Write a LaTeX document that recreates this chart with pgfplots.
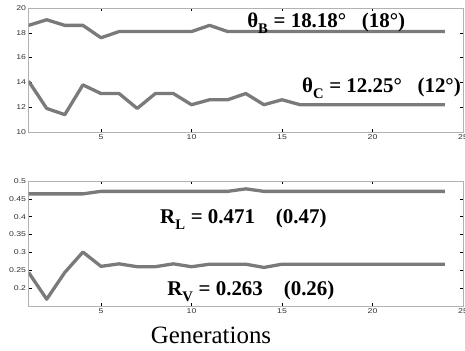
\documentclass[border=0pt]{standalone}
\usepackage{pgfplots}
\pgfplotsset{compat=1.18}
\usepackage{fontspec}
\setmainfont{Liberation Serif}
\newfontfamily\tickfont[FakeStretch=1.25]{Liberation Sans}
\definecolor{linegray}{RGB}{122,122,122}
\tikzset{annot/.style={anchor=base west, inner sep=0pt, font=\fontsize{21}{22}\selectfont\bfseries}}
\begin{document}
\begin{tikzpicture}
\useasboundingbox (0bp,0bp) rectangle (465bp,351bp);
\pgfplotsset{
  every axis/.append style={
    scale only axis,
    width=434.4bp,
    height=124bp,
    xmin=1, xmax=25,
    xtick={5,10,15,20,25},
    tick align=inside,
    major tick length=3bp,
    axis line style={gray!60, line width=0.8pt},
    tick style={black, line width=0.5pt},
    ticklabel style={font=\tickfont\fontsize{7}{8}\selectfont, text=black!80},
    /pgf/number format/assume math mode=true,
    xticklabel style={yshift=1bp},
    yticklabel style={xshift=1bp},
  },
  myline/.style={linegray, line width=3.3bp, line join=round, mark=none},
}
% top axis
\begin{axis}[
  anchor=south west, at={(28.6bp,219bp)},
  ymin=10, ymax=20, ytick={10,12,14,16,18,20},
]
\addplot[myline] coordinates {
 (1,18.6) (2,19.05) (3,18.6) (4,18.6) (5,17.6) (6,18.1) (7,18.1) (8,18.1)
 (9,18.1) (10,18.1) (11,18.6) (12,18.1) (13,18.1) (14,18.1) (15,18.1)
 (16,18.1) (17,18.1) (18,18.1) (19,18.1) (20,18.1) (21,18.1) (22,18.1)
 (23,18.1) (24,18.1)
};
\addplot[myline] coordinates {
 (1,14.1) (2,11.9) (3,11.4) (4,13.8) (5,13.1) (6,13.1) (7,11.9) (8,13.1)
 (9,13.1) (10,12.2) (11,12.6) (12,12.6) (13,13.1) (14,12.2) (15,12.6)
 (16,12.2) (17,12.2) (18,12.2) (19,12.2) (20,12.2) (21,12.2) (22,12.2)
 (23,12.2) (24,12.2)
};
\node[annot] at (axis cs:13.07,18.39)
  {θ\raisebox{-0.3ex}{\textsubscript{B}} = 18.18°\ \ \ (18°)};
\node[annot] at (axis cs:16.1,13.15)
  {θ\raisebox{-0.3ex}{\textsubscript{C}} = 12.25°\ \ \ (12°)};
\end{axis}
% bottom axis
\begin{axis}[
  anchor=south west, at={(28.6bp,45bp)},
  height=125bp,
  ymin=0.15, ymax=0.5, ytick={0.2,0.25,0.3,0.35,0.4,0.45,0.5},
]
\addplot[myline] coordinates {
 (1,0.464) (2,0.464) (3,0.464) (4,0.464) (5,0.471) (6,0.471) (7,0.471)
 (8,0.471) (9,0.471) (10,0.471) (11,0.471) (12,0.471) (13,0.478) (14,0.471)
 (15,0.471) (16,0.471) (17,0.471) (18,0.471) (19,0.471) (20,0.471)
 (21,0.471) (22,0.471) (23,0.471) (24,0.471)
};
\addplot[myline] coordinates {
 (1,0.244) (2,0.169) (3,0.244) (4,0.301) (5,0.261) (6,0.268) (7,0.260)
 (8,0.260) (9,0.268) (10,0.260) (11,0.267) (12,0.267) (13,0.267) (14,0.258)
 (15,0.267) (16,0.267) (17,0.267) (18,0.267) (19,0.267) (20,0.267)
 (21,0.267) (22,0.267) (23,0.267) (24,0.267)
};
\node[annot] at (axis cs:8.26,0.3796)
  {R\raisebox{-0.3ex}{\textsubscript{L}} = 0.471\quad(0.47)};
\node[annot] at (axis cs:8.65,0.178)
  {R\raisebox{-0.3ex}{\textsubscript{V}} = 0.263\quad(0.26)};
\end{axis}
\node[anchor=base, inner sep=0pt, font=\fontsize{25}{26}\selectfont] at (211bp,8bp) {Generations};
\end{tikzpicture}
\end{document}
